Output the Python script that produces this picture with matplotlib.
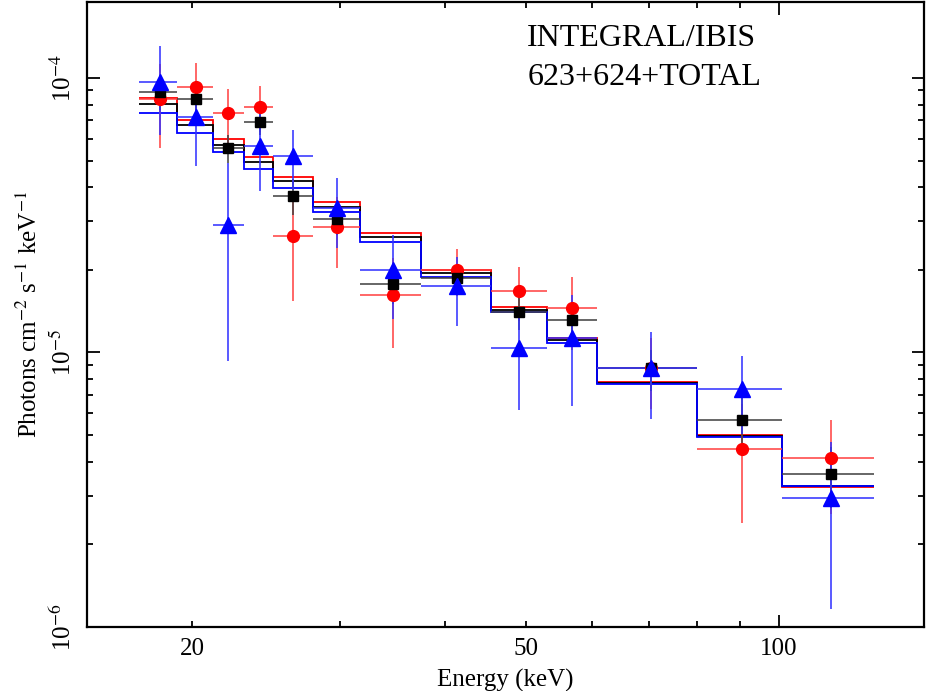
import matplotlib
matplotlib.use('Agg')
import matplotlib.pyplot as plt
import numpy as np

# ── datos ────────────────────────────────────────────────────────────────────
edges = np.array([17.3, 19.2, 21.2, 23.1, 25.0, 27.9, 31.7, 37.5, 45.4,
                  53.0, 60.7, 80.0, 101.0, 130.0])
energy = np.array([18.3, 20.2, 22.1, 24.1, 26.4, 29.8, 34.7, 41.4, 49.0,
                   56.7, 70.4, 90.4, 115.4])

# 623 (rojo)
flux_623 = np.array([8.39e-5, 9.29e-5, 7.44e-5, 7.86e-5, 2.65e-5, 2.86e-5, 1.62e-5,
                     1.99e-5, 1.67e-5, 1.45e-5, 8.75e-6, 4.44e-6, 4.12e-6])
err_623 = np.array([2.82e-5, 2.0e-5, 1.66e-5, 1.5e-5, 1.11e-5, 8.3e-6, 5.8e-6,
                    3.9e-6, 3.7e-6, 4.3e-6, 2.5e-6, 2.04e-6, 1.54e-6])
model_623 = np.array([8.44e-5, 7.03e-5, 6.00e-5, 5.15e-5, 4.37e-5, 3.53e-5, 2.725e-5,
                      2.0e-5, 1.466e-5, 1.131e-5, 7.82e-6, 4.99e-6, 3.24e-6])

# TOTAL (negro)
flux_tot = np.array([8.92e-5, 8.41e-5, 5.55e-5, 6.92e-5, 3.72e-5, 3.07e-5, 1.78e-5,
                     1.87e-5, 1.40e-5, 1.31e-5, 8.75e-6, 5.66e-6, 3.62e-6])
err_tot = np.array([1.3e-5, 1.0e-5, 6.4e-6, 7.0e-6, 5.5e-6, 4.0e-6, 2.8e-6,
                    2.0e-6, 1.9e-6, 2.2e-6, 1.5e-6, 1.2e-6, 0.9e-6])
model_tot = np.array([8.01e-5, 6.71e-5, 5.71e-5, 4.96e-5, 4.20e-5, 3.40e-5, 2.635e-5,
                      1.95e-5, 1.433e-5, 1.108e-5, 7.76e-6, 4.96e-6, 3.25e-6])

# 624 (azul)
flux_624 = np.array([9.63e-5, 7.23e-5, 2.92e-5, 5.63e-5, 5.19e-5, 3.36e-5, 2.00e-5,
                     1.74e-5, 1.04e-5, 1.13e-5, 8.78e-6, 7.39e-6, 2.94e-6])
err_624 = np.array([3.44e-5, 2.44e-5, 1.99e-5, 1.77e-5, 1.28e-5, 9.6e-6, 6.8e-6,
                    4.9e-6, 4.25e-6, 4.9e-6, 3.05e-6, 2.35e-6, 1.78e-6])
model_624 = np.array([7.43e-5, 6.28e-5, 5.37e-5, 4.66e-5, 3.97e-5, 3.25e-5, 2.52e-5,
                      1.88e-5, 1.401e-5, 1.085e-5, 7.67e-6, 4.94e-6, 3.27e-6])

# ── estilo ───────────────────────────────────────────────────────────────────
plt.rcParams.update({
    'font.family': 'Liberation Serif',
    'mathtext.fontset': 'stix',
    'font.size': 18,
})

fig = plt.figure(figsize=(9.29, 6.91), dpi=100)
ax = fig.add_axes([0.0937, 0.0926, 0.9009, 0.9045])

xerr = [energy - edges[:-1], edges[1:] - energy]

series = [
    (flux_623, err_623, model_623, 'red', '#ff4040', 'o', 8.5),
    (flux_tot, err_tot, model_tot, 'black', '#404040', 's', 7),
    (flux_624, err_624, model_624, 'blue', '#3030ff', '^', 11.5),
]
for flux, err, model, col, ecol, mk, ms in series:
    ax.stairs(model, edges, baseline=None, color=col, lw=1.3, zorder=2)
for flux, err, model, col, ecol, mk, ms in series:
    ax.errorbar(energy, flux, xerr=xerr, yerr=err, fmt='none',
                ecolor=ecol, elinewidth=1.4, alpha=0.8, zorder=3)
for flux, err, model, col, ecol, mk, ms in series:
    ax.plot(energy, flux, ls='none', marker=mk, ms=ms, color=col,
            mec=col, zorder=4)

ax.set_xscale('log')
ax.set_yscale('log')
ax.set_xlim(15.0, 149)
ax.set_ylim(1e-6, 1.89e-4)

# ticks estilo PGPLOT
ax.set_xticks([100])
ax.set_xticklabels(['100'])
minor_x = [20, 30, 40, 50, 60, 70, 80, 90]
ax.set_xticks(minor_x, minor=True)
ax.set_xticklabels(['20', '', '', '50', '', '', '', ''], minor=True)

ax.set_yticks([1e-6, 1e-5, 1e-4])
ax.set_yticklabels([r'10$^{-6}$', r'10$^{-5}$', r'10$^{-4}$'],
                   rotation=90, va='center')
minor_y = [m * d for d in (1e-6, 1e-5) for m in range(2, 10)]
ax.set_yticks(minor_y, minor=True)
ax.set_yticklabels([''] * len(minor_y), minor=True)

ax.tick_params(which='both', direction='in', top=True, right=True,
               width=1.3, labelsize=18)
ax.tick_params(which='major', length=9, pad=8)
ax.tick_params(which='minor', length=4.5, pad=8)
for s in ax.spines.values():
    s.set_linewidth(1.6)

ax.set_xlabel('Energy (keV)', fontsize=18, labelpad=6)
ax.set_ylabel(r'Photons cm$^{-2}$ s$^{-1}$ keV$^{-1}$', fontsize=18, labelpad=6)

ax.text(0.526, 0.965, 'INTEGRAL/IBIS\n623+624+TOTAL', transform=ax.transAxes,
        fontsize=23, va='top', ha='left', linespacing=1.45)

fig.savefig('out.png', dpi=100)
